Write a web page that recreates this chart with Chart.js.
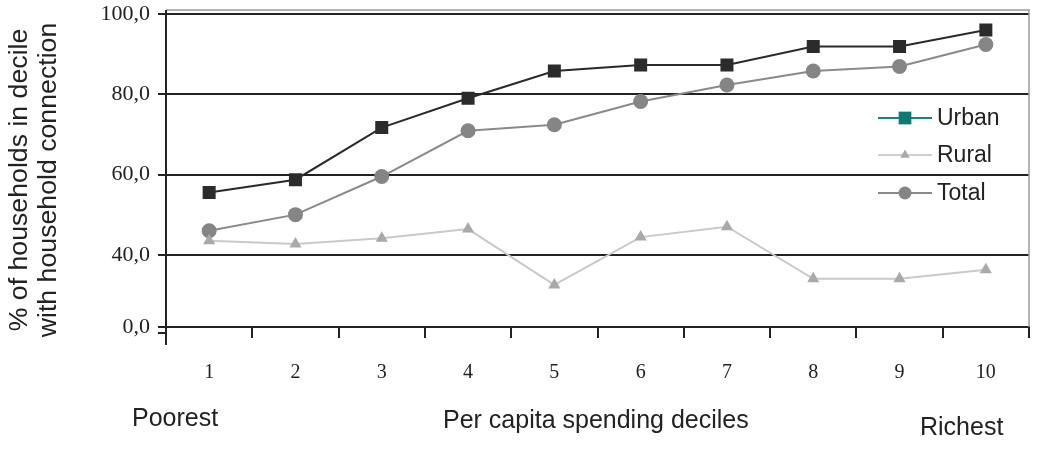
<!DOCTYPE html>
<html>
<head>
<meta charset="utf-8">
<script src="https://cdn.jsdelivr.net/npm/chart.js@4/dist/chart.umd.min.js"></script>
<style>
  html, body { margin: 0; padding: 0; background: #ffffff; }
  #wrap { width: 1048px; height: 450px; }
</style>
</head>
<body>
<div id="wrap"><canvas id="c" width="1048" height="450"></canvas></div>
<script>
// ---- data ----
const categories = ['1', '2', '3', '4', '5', '6', '7', '8', '9', '10'];
const urban = [55.5, 58.7, 71.7, 79.0, 85.8, 87.3, 87.3, 91.9, 91.9, 96.0];
const rural = [43.5, 42.7, 44.1, 46.4, 23.3, 44.4, 47.0, 26.7, 26.7, 31.7];
const total = [46.0, 50.0, 59.5, 70.9, 72.4, 78.2, 82.3, 85.8, 86.9, 92.4];
const yTicks = [0, 40, 60, 80, 100];
const seriesNames = ['Urban', 'Rural', 'Total'];
const yTitle = ['% of households in decile', 'with household connection'];
const xTitle = 'Per capita spending deciles';
const leftNote = 'Poorest';
const rightNote = 'Richest';

// ---- broken value axis (0-40 compressed into one band, as in the original) ----
class BrokenScale extends Chart.LinearScale {
  _u(v) {
    const b = this.options.breakValue, lb = this.options.lowerBand, st = this.options.bandStep;
    return v >= b ? lb + (v - b) / st : lb * v / b;
  }
  getPixelForValue(value) {
    const uMax = this._u(this.max);
    return this.getPixelForDecimal(this._u(value) / uMax);
  }
  getValueForPixel(pixel) {
    const b = this.options.breakValue, lb = this.options.lowerBand, st = this.options.bandStep;
    const u = this.getDecimalForPixel(pixel) * this._u(this.max);
    return u >= lb ? b + (u - lb) * st : u * b / lb;
  }
}
BrokenScale.id = 'broken';
BrokenScale.defaults = Chart.LinearScale.defaults;
Chart.register(BrokenScale);

const SANS = '"Liberation Sans", Arial, sans-serif';
const SERIF = '"Liberation Serif", "Times New Roman", serif';
const INK = '#222222';

const styles = {
  Urban: { line: '#2a2a2a', fill: '#2b2b2b', point: 'rect', r: 9.2, lw: 2, legLine: '#0a8a84', legFill: '#0a7a72' },
  Rural: { line: '#c9c9c9', fill: '#a9a9a9', point: 'triangle', r: 7, lw: 2, legLine: '#cfcfcf', legFill: '#aaaaaa' },
  Total: { line: '#8a8a8a', fill: '#858585', point: 'circle', r: 7.5, lw: 2, legLine: '#8a8a8a', legFill: '#858585' }
};

function drawMarker(ctx, style, x, y, r, color) {
  ctx.save();
  ctx.fillStyle = color;
  ctx.beginPath();
  if (style === 'rect') {
    const s = Math.SQRT1_2 * r;
    ctx.rect(x - s, y - s, 2 * s, 2 * s);
  } else if (style === 'triangle') {
    let a = 0;
    ctx.moveTo(x + Math.sin(a) * r, y - Math.cos(a) * r);
    a += 2 * Math.PI / 3;
    ctx.lineTo(x + Math.sin(a) * r, y - Math.cos(a) * r);
    a += 2 * Math.PI / 3;
    ctx.lineTo(x + Math.sin(a) * r, y - Math.cos(a) * r);
    ctx.closePath();
  } else {
    ctx.arc(x, y, r, 0, Math.PI * 2);
  }
  ctx.fill();
  ctx.restore();
}

const decor = {
  id: 'decor',
  beforeDatasetsDraw(chart) {
    const { ctx, chartArea: a } = chart;
    ctx.save();
    // light frame at top and right
    ctx.strokeStyle = '#9a9a9a';
    ctx.lineWidth = 1.5;
    ctx.beginPath();
    ctx.moveTo(a.left, a.top - 4);
    ctx.lineTo(a.right, a.top - 4);
    ctx.lineTo(a.right, a.bottom);
    ctx.stroke();
    // y-axis line extension below the category axis
    ctx.strokeStyle = INK;
    ctx.lineWidth = 2;
    ctx.beginPath();
    ctx.moveTo(a.left, a.top - 4);
    ctx.lineTo(a.left, a.bottom + 18);
    ctx.stroke();
    ctx.beginPath();
    ctx.moveTo(a.left - 8, a.bottom + 6);
    ctx.lineTo(a.left, a.bottom + 6);
    ctx.stroke();
    ctx.restore();
  },
  afterDraw(chart) {
    const { ctx } = chart;
    ctx.save();
    ctx.fillStyle = INK;
    // y title (two rotated lines)
    ctx.font = '26.7px ' + SANS;
    ctx.textAlign = 'center';
    ctx.textBaseline = 'alphabetic';
    ctx.save();
    ctx.translate(0, 180);
    ctx.rotate(-Math.PI / 2);
    ctx.fillText(yTitle[0], 0, 27);
    ctx.fillText(yTitle[1], 0, 56);
    ctx.restore();
    // bottom notes
    ctx.font = '25px ' + SANS;
    ctx.textAlign = 'left';
    ctx.fillText(leftNote, 132, 426);
    ctx.fillText(xTitle, 443, 428);
    ctx.fillText(rightNote, 920, 435);
    // legend
    ctx.font = '23px ' + SANS;
    ctx.textBaseline = 'middle';
    const ys = [118, 155, 193];
    seriesNames.forEach((name, i) => {
      const s = styles[name];
      ctx.strokeStyle = s.legLine;
      ctx.lineWidth = 2;
      ctx.beginPath();
      ctx.moveTo(878, ys[i]);
      ctx.lineTo(932, ys[i]);
      ctx.stroke();
      const lr = name === 'Urban' ? 9 : (name === 'Rural' ? 5.5 : 6.5);
      drawMarker(ctx, s.point, 905, ys[i], lr, s.legFill);
      ctx.fillStyle = INK;
      ctx.fillText(name, 937, ys[i] + 1);
    });
    ctx.restore();
  }
};

const seriesData = { Urban: urban, Rural: rural, Total: total };
const datasets = ['Rural', 'Total', 'Urban'].map(name => {
  const s = styles[name];
  return {
    label: name,
    data: seriesData[name],
    borderColor: s.line,
    backgroundColor: s.fill,
    borderWidth: s.lw,
    pointStyle: s.point,
    pointRadius: s.r,
    pointHoverRadius: s.r,
    pointBackgroundColor: s.fill,
    pointBorderColor: s.fill,
    pointBorderWidth: 0,
    tension: 0,
    fill: false
  };
});

new Chart(document.getElementById('c'), {
  type: 'line',
  data: { labels: categories, datasets },
  plugins: [decor],
  options: {
    responsive: false,
    devicePixelRatio: 1,
    animation: false,
    layout: { padding: { top: 14, right: 19, left: 0, bottom: 0 } },
    plugins: { legend: { display: false }, tooltip: { enabled: false } },
    scales: {
      x: {
        type: 'category',
        offset: true,
        grid: { display: true, drawOnChartArea: false, offset: true, tickLength: 11, color: INK, lineWidth: 2 },
        border: { display: true, color: INK, width: 2 },
        ticks: { font: { family: SERIF, size: 20 }, color: INK, padding: 23, maxRotation: 0 },
        afterFit(scale) { scale.height = 450 - 327; scale.paddingLeft = 0; scale.paddingRight = 0; }
      },
      y: {
        type: 'broken',
        min: 0,
        max: 100,
        breakValue: 40,
        lowerBand: 0.9,
        bandStep: 20,
        afterBuildTicks(scale) { scale.ticks = yTicks.map(v => ({ value: v })); },
        grid: { display: true, drawOnChartArea: true, tickLength: 8, color: INK, lineWidth: 2 },
        border: { display: true, color: INK, width: 2 },
        ticks: {
          font: { family: SERIF, size: 22 },
          color: INK,
          padding: 8,
          callback: (v) => Number(v).toFixed(1).replace('.', ',')
        },
        afterFit(scale) { scale.width = 166; scale.paddingTop = 0; scale.paddingBottom = 0; }
      }
    }
  }
});
</script>
</body>
</html>
